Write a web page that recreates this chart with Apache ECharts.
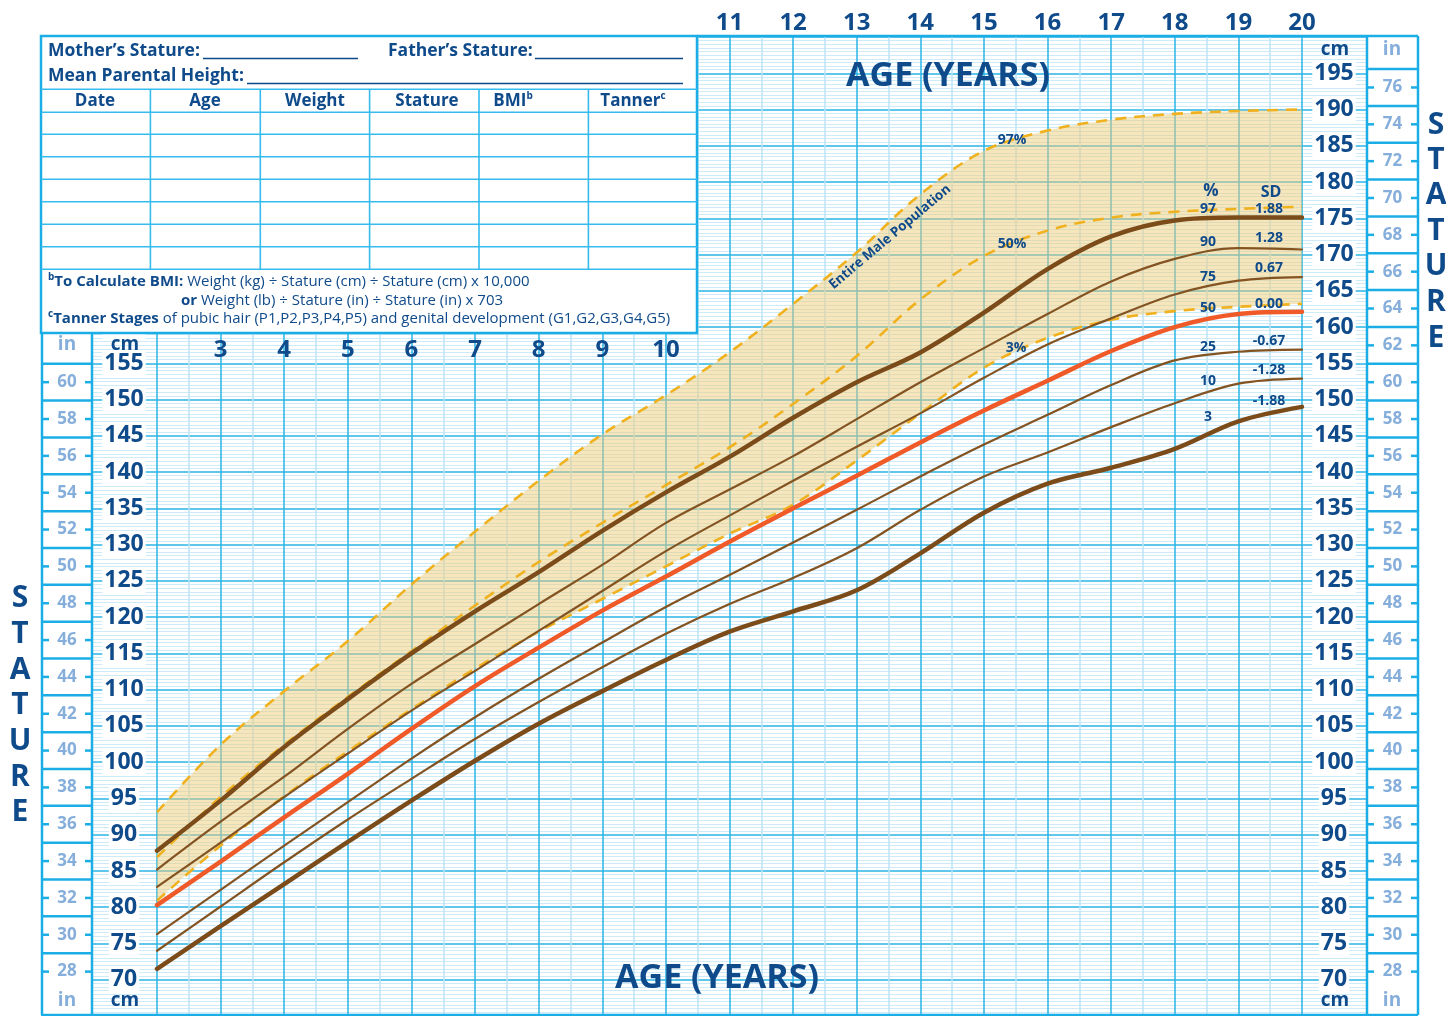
<!DOCTYPE html>
<html>
<head>
<meta charset="utf-8">
<title>Stature-for-age chart</title>
<script src="https://cdn.jsdelivr.net/npm/echarts@6.0.0/dist/echarts.min.js"></script>
<style>
html,body{margin:0;padding:0;background:#fff;}
#chart{width:1446px;height:1016px;}
</style>
</head>
<body>
<div id="chart"></div>
<script>
// ---------------- data ----------------
const ages   = [2, 3, 4, 5, 6, 7, 8, 9, 10, 11, 12, 13, 14, 15, 16, 17, 18, 19, 20];
const p97 = [87.8, 94.7, 102.1, 108.7, 115.0, 120.8, 126.2, 131.9, 137.2, 142.1, 147.5, 152.4, 156.5, 162.0, 168.0, 172.5, 174.7, 175.1, 175.1];
const p90 = [85.2, 91.8, 98.0, 104.6, 110.8, 116.3, 121.8, 127.2, 133.0, 137.6, 142.2, 147.3, 152.4, 157.1, 161.8, 166.3, 169.4, 170.9, 170.7];
const p75 = [82.8, 88.9, 95.2, 101.2, 107.1, 112.6, 118.1, 123.6, 129.1, 134.0, 138.8, 143.5, 148.1, 153.0, 157.6, 161.2, 164.5, 166.4, 166.9];
const p50 = [80.3, 86.3, 92.4, 98.4, 104.6, 110.5, 115.8, 120.9, 125.6, 130.4, 135.0, 139.5, 144.1, 148.5, 152.6, 156.7, 160.0, 161.8, 162.1];
const p25 = [76.3, 82.4, 88.5, 94.5, 100.5, 106.2, 111.5, 116.5, 121.4, 125.8, 130.3, 134.8, 139.4, 143.8, 147.9, 152.0, 155.4, 156.6, 156.9];
const p10 = [74.0, 80.1, 86.2, 92.1, 97.7, 103.2, 108.3, 113.1, 117.7, 121.8, 125.4, 129.5, 134.8, 139.4, 142.7, 146.2, 149.5, 152.2, 152.9];
const p3  = [71.5, 77.4, 83.2, 89.0, 94.7, 100.2, 105.3, 109.8, 114.1, 118.0, 120.8, 123.7, 128.8, 134.4, 138.4, 140.6, 143.2, 147.0, 149.0];
// entire male population reference curves (dashed)
const pop3  = [80.9, 88.5, 95.3, 101.5, 107.3, 112.9, 118.0, 122.5, 127.0, 131.5, 135.5, 141.6, 148.1, 154.4, 158.5, 161.0, 162.2, 162.8, 163.2];
const pop50 = [86.9, 95.2, 102.4, 109.0, 115.3, 121.6, 127.6, 133.0, 138.2, 143.4, 149.4, 156.0, 163.8, 169.8, 173.3, 175.1, 175.9, 176.3, 176.6];
const pop97 = [93.1, 102.4, 109.8, 116.7, 124.5, 131.8, 138.8, 145.2, 150.6, 156.5, 163.2, 170.3, 178.3, 184.3, 187.1, 188.6, 189.4, 189.8, 190.0];
// tick labels
const ageTopLabels = [11, 12, 13, 14, 15, 16, 17, 18, 19, 20];
const ageMidLabels = [3, 4, 5, 6, 7, 8, 9, 10];
const leftInchMarks  = [28,29,30,31,32,33,34,35,36,37,38,39,40,41,42,43,44,45,46,47,48,49,50,51,52,53,54,55,56,57,58,59,60,61];
const rightInchMarks = [28,29,30,31,32,33,34,35,36,37,38,39,40,41,42,43,44,45,46,47,48,49,50,51,52,53,54,55,56,57,58,59,60,61,62,63,64,65,66,67,68,69,70,71,72,73,74,75,76,77];
const pctLabels = ['97', '90', '75', '50', '25', '10', '3'];
const sdLabels  = ['1.88', '1.28', '0.67', '0.00', '-0.67', '-1.28', '-1.88'];
const tableHeaders = ['Date', 'Age', 'Weight', 'Stature', 'BMI', 'Tanner'];

// ---------------- layout & style ----------------
const FONT = '"Open Sans", "Noto Sans", Arial, sans-serif';
const NAVY = '#0F4A8A';
const GRID_MAJOR = '#2AB4E6';
const GRID_MINOR = '#CDEBF8';
const BORDER = '#1BAEE6';
const INCH_TXT = '#86AEDB';
const TAN = 'rgba(239,203,122,0.5)';
const DASH = '#F0B11F';
const BROWN_THICK = '#7B4B19';
const BROWN_THIN = '#835321';
const RED = '#F05A28';
const SMOOTH = 0.35;

const PL = 157, PW = 1145, PT = 37, PXCM = 7.264;
const YMIN = 65, YMAX = 200;
const PH = (YMAX - YMIN) * PXCM;

const pairs = arr => ages.map((a, i) => [a, arr[i]]);

function curve(arr, color, width, z, dashed) {
  return {
    type: 'line', xAxisIndex: 0, yAxisIndex: 0, data: pairs(arr),
    symbol: 'none', smooth: SMOOTH, silent: true, z: z,
    lineStyle: { color: color, width: width, type: dashed ? [11, 8] : 'solid', cap: dashed ? 'butt' : 'round' }
  };
}

function inchRender(params, api) {
  const inch = api.value(1);
  const cm = inch * 2.54;
  const a = api.coord([0, cm]);
  const b = api.coord([1, cm]);
  const st = { stroke: BORDER, lineWidth: 2.5 };
  if (inch % 2 !== 0) {
    return { type: 'line', shape: { x1: a[0], y1: a[1], x2: b[0], y2: b[1] }, style: st };
  }
  return {
    type: 'group', children: [
      { type: 'line', shape: { x1: a[0], y1: a[1], x2: a[0] + 7, y2: a[1] }, style: st },
      { type: 'line', shape: { x1: b[0] - 7, y1: b[1], x2: b[0], y2: b[1] }, style: st },
      { type: 'text', x: (a[0] + b[0]) / 2, y: a[1],
        style: { text: String(inch), fill: INCH_TXT, font: 'bold 17px ' + FONT, align: 'center', verticalAlign: 'middle' } }
    ]
  };
}

const cmAxisLabel = {
  inside: true, margin: 32, align: 'center', verticalAlign: 'middle',
  fontSize: 23, fontWeight: 'bold', fontFamily: FONT, color: NAVY,
  backgroundColor: '#fff', padding: [0, 2], lineHeight: 24,
  showMinLabel: false, showMaxLabel: false
};

function yCm(grid, withLabels) {
  return {
    gridIndex: grid, type: 'value', min: YMIN, max: YMAX, interval: 5, position: 'left',
    axisLine: { show: false }, axisTick: { show: false },
    axisLabel: withLabels ? cmAxisLabel : { show: false },
    splitLine: { show: true, lineStyle: { color: GRID_MAJOR, width: 1.5 } },
    minorTick: { show: false, splitNumber: 10 },
    minorSplitLine: { show: true, lineStyle: { color: GRID_MINOR, width: 1 } }
  };
}
function hiddenX(grid) { return { gridIndex: grid, type: 'value', min: 0, max: 1, show: false }; }
function hiddenY(grid) { return { gridIndex: grid, type: 'value', min: YMIN, max: YMAX, show: false }; }

// ---------------- graphics (table, titles, borders) ----------------
const G = [];
function ln(x1, y1, x2, y2, color, w, z) {
  return { type: 'line', silent: true, z: z || 101, shape: { x1, y1, x2, y2 }, style: { stroke: color, lineWidth: w } };
}
function tx(x, y, text, size, color, align, weight) {
  return { type: 'text', silent: true, z: 102, x, y,
    style: { text: text, fill: color, font: (weight || 'bold') + ' ' + size + 'px ' + FONT,
             align: align || 'center', verticalAlign: 'middle' } };
}
// table
const TX0 = 41, TX1 = 697, TY0 = 36, TY1 = 333;
G.push({ type: 'rect', silent: true, z: 100, shape: { x: TX0, y: TY0, width: TX1 - TX0, height: TY1 - TY0 },
         style: { fill: '#fff', stroke: BORDER, lineWidth: 2.5 } });
const rowY = [89.3, 112.3, 134.3, 156.7, 179.3, 201.7, 224.3, 246.7, 269.3];
rowY.forEach(y => G.push(ln(TX0, y, TX1, y, '#35BBEE', 1.6)));
const colX = [150.4, 260.3, 369.6, 479, 588.4];
colX.forEach(x => G.push(ln(x, rowY[0], x, rowY[rowY.length - 1], '#35BBEE', 1.6)));
G.push(tx(48, 51, 'Mother\u2019s Stature:', 17.5, NAVY, 'left'));
G.push(ln(203, 58.5, 358, 58.5, NAVY, 1.4));
G.push(tx(388, 51, 'Father\u2019s Stature:', 17.5, NAVY, 'left'));
G.push(ln(535, 58.5, 683, 58.5, NAVY, 1.4));
G.push(tx(48, 76, 'Mean Parental Height:', 17.5, NAVY, 'left'));
G.push(ln(247, 83.5, 683, 83.5, NAVY, 1.4));
const headX = [95, 205, 315, 427, 513, 633];
const sup = { font: 'bold 10px ' + FONT, fill: NAVY, verticalAlign: 'top', lineHeight: 10 };
tableHeaders.forEach((h, i) => {
  let t = '{h|' + h + '}';
  if (h === 'BMI') t += '{s|b}';
  if (h === 'Tanner') t += '{s|c}';
  G.push({ type: 'text', silent: true, z: 102, x: headX[i], y: 101,
    style: { text: t, align: 'center', verticalAlign: 'middle',
      rich: { h: { font: 'bold 17px ' + FONT, fill: NAVY, lineHeight: 20 }, s: sup } } });
});
const noteRich = {
  s: sup,
  b: { font: 'bold 15px ' + FONT, fill: NAVY, lineHeight: 19 },
  n: { font: '15px ' + FONT, fill: NAVY, lineHeight: 19 }
};
[
  [48, 282, '{s|b}{b|To Calculate BMI:}{n| Weight (kg) \u00f7 Stature (cm) \u00f7 Stature (cm) x 10,000}'],
  [181, 301, '{b|or}{n| Weight (lb) \u00f7 Stature (in) \u00f7 Stature (in) x 703}'],
  [48, 319, '{s|c}{b|Tanner Stages}{n| of pubic hair (P1,P2,P3,P4,P5) and genital development (G1,G2,G3,G4,G5)}']
].forEach(r => G.push({ type: 'text', silent: true, z: 102, x: r[0], y: r[1],
  style: { text: r[2], align: 'left', verticalAlign: 'middle', rich: noteRich } }));

// outer frame lines
G.push(ln(TX1, 36, 1418, 36, BORDER, 2.5, 100));
G.push(ln(TX0, 1015, 1418, 1015, BORDER, 2.5, 100));
G.push(ln(42, TY1, 42, 1015, BORDER, 2.5, 100));
G.push(ln(92, TY1, 92, 1015, BORDER, 2.5, 100));
G.push(ln(1367, 36, 1367, 1015, BORDER, 2.5, 100));
G.push(ln(1418, 36, 1418, 1015, BORDER, 2.5, 100));

// unit labels
G.push(tx(125, 345, 'cm', 19, NAVY));
G.push(tx(67, 345, 'in', 19, INCH_TXT));
G.push(tx(125, 1001, 'cm', 19, NAVY));
G.push(tx(67, 1001, 'in', 19, INCH_TXT));
G.push(tx(1335, 50, 'cm', 19, NAVY));
G.push(tx(1392, 50, 'in', 19, INCH_TXT));
G.push(tx(1335, 1001, 'cm', 19, NAVY));
G.push(tx(1392, 1001, 'in', 19, INCH_TXT));

// axis titles
G.push(tx(948, 76, 'AGE (YEARS)', 34, NAVY));
G.push(tx(717, 978, 'AGE (YEARS)', 34, NAVY));
const word = 'STATURE'.split('');
const leftLetterY = [598, 634, 670, 705, 741, 777, 812];
const rightLetterY = [125, 160, 195, 231, 266, 302, 338];
word.forEach((c, i) => {
  G.push(tx(20, leftLetterY[i], c, 30, NAVY));
  G.push(tx(1436, rightLetterY[i], c, 30, NAVY));
});

// curve annotations
G.push(tx(1211, 191, '%', 17, NAVY));
G.push(tx(1271, 192, 'SD', 16, NAVY));
const pctY = [209, 242, 277, 308, 347, 381, 417];
const sdY  = [209, 238, 268, 304, 341, 370, 401];
pctLabels.forEach((t, i) => G.push(tx(1208, pctY[i], t, 14, NAVY)));
sdLabels.forEach((t, i) => G.push(tx(1269, sdY[i], t, 14, NAVY)));
G.push(tx(1012, 140, '97%', 14, NAVY));
G.push(tx(1012, 244, '50%', 14, NAVY));
G.push(tx(1016, 348, '3%', 14, NAVY));
G.push({ type: 'text', silent: true, z: 102, x: 890, y: 237, rotation: 40 * Math.PI / 180,
  style: { text: 'Entire Male Population', fill: NAVY, font: 'bold 13.5px ' + FONT, align: 'center', verticalAlign: 'middle' } });

// ---------------- option ----------------
const option = {
  animation: false,
  backgroundColor: '#fff',
  grid: [
    { left: PL, top: PT, width: PW, height: PH },      // 0 main plot
    { left: 92, top: PT, width: 65, height: PH },      // 1 left cm column
    { left: 1302, top: PT, width: 65, height: PH },    // 2 right cm column
    { left: 42, top: PT, width: 50, height: PH },      // 3 left inch column
    { left: 1367, top: PT, width: 51, height: PH },    // 4 right inch column
    { left: PL, top: TY1, width: PW, height: 100 }     // 5 carrier for ages 3-10
  ],
  xAxis: [
    { gridIndex: 0, type: 'value', min: 2, max: 20, interval: 1, position: 'top',
      axisLine: { show: false }, axisTick: { show: false },
      axisLabel: { margin: 2, fontSize: 24, fontWeight: 'bold', fontFamily: FONT, color: NAVY,
        showMinLabel: true, showMaxLabel: true,
        formatter: v => (ageTopLabels.indexOf(v) >= 0 ? String(v) : '') },
      splitLine: { show: true, lineStyle: { color: GRID_MAJOR, width: 1.5 } },
      minorTick: { show: false, splitNumber: 2 },
      minorSplitLine: { show: true, lineStyle: { color: '#BCE3F5', width: 1.5 } } },
    hiddenX(1), hiddenX(2), hiddenX(3), hiddenX(4),
    { gridIndex: 5, type: 'value', min: 2, max: 20, interval: 1, position: 'top',
      axisLine: { show: false }, axisTick: { show: false }, splitLine: { show: false },
      axisLabel: { inside: true, margin: 5, fontSize: 24, fontWeight: 'bold', fontFamily: FONT, color: NAVY,
        formatter: v => (ageMidLabels.indexOf(v) >= 0 ? String(v) : '') } },
    // category twin of the age axis, used only to stack the shaded population band
    { gridIndex: 0, type: 'category', position: 'bottom', boundaryGap: false, data: ages, show: false }
  ],
  yAxis: [
    yCm(0, false), yCm(1, true), yCm(2, true), hiddenY(3), hiddenY(4),
    { gridIndex: 5, type: 'value', min: 0, max: 1, show: false }
  ],
  series: [
    // shaded band of the entire male population (3% to 97%)
    { type: 'line', xAxisIndex: 6, yAxisIndex: 0, stack: 'band', data: pop3, symbol: 'none',
      smooth: SMOOTH, silent: true, z: 1, lineStyle: { width: 0, opacity: 0 } },
    { type: 'line', xAxisIndex: 6, yAxisIndex: 0, stack: 'band', data: pop97.map((v, i) => v - pop3[i]),
      symbol: 'none', smooth: SMOOTH, silent: true, z: 1,
      lineStyle: { width: 0, opacity: 0 }, areaStyle: { color: TAN, opacity: 1 } },
    curve(pop3, DASH, 2.6, 3, true),
    curve(pop50, DASH, 2.6, 3, true),
    curve(pop97, DASH, 2.6, 3, true),
    curve(p10, BROWN_THIN, 2.2, 4),
    curve(p25, BROWN_THIN, 2.2, 4),
    curve(p75, BROWN_THIN, 2.2, 4),
    curve(p90, BROWN_THIN, 2.2, 4),
    curve(p3, BROWN_THICK, 4.5, 5),
    curve(p97, BROWN_THICK, 4.5, 5),
    curve(p50, RED, 4.5, 5),
    { type: 'custom', xAxisIndex: 3, yAxisIndex: 3, data: leftInchMarks.map(v => [0, v]),
      renderItem: inchRender, silent: true, z: 6, clip: false },
    { type: 'custom', xAxisIndex: 4, yAxisIndex: 4, data: rightInchMarks.map(v => [0, v]),
      renderItem: inchRender, silent: true, z: 6, clip: false }
  ],
  graphic: { elements: G }
};

const chart = echarts.init(document.getElementById('chart'), null, { renderer: 'canvas' });
chart.setOption(option);
</script>
</body>
</html>
